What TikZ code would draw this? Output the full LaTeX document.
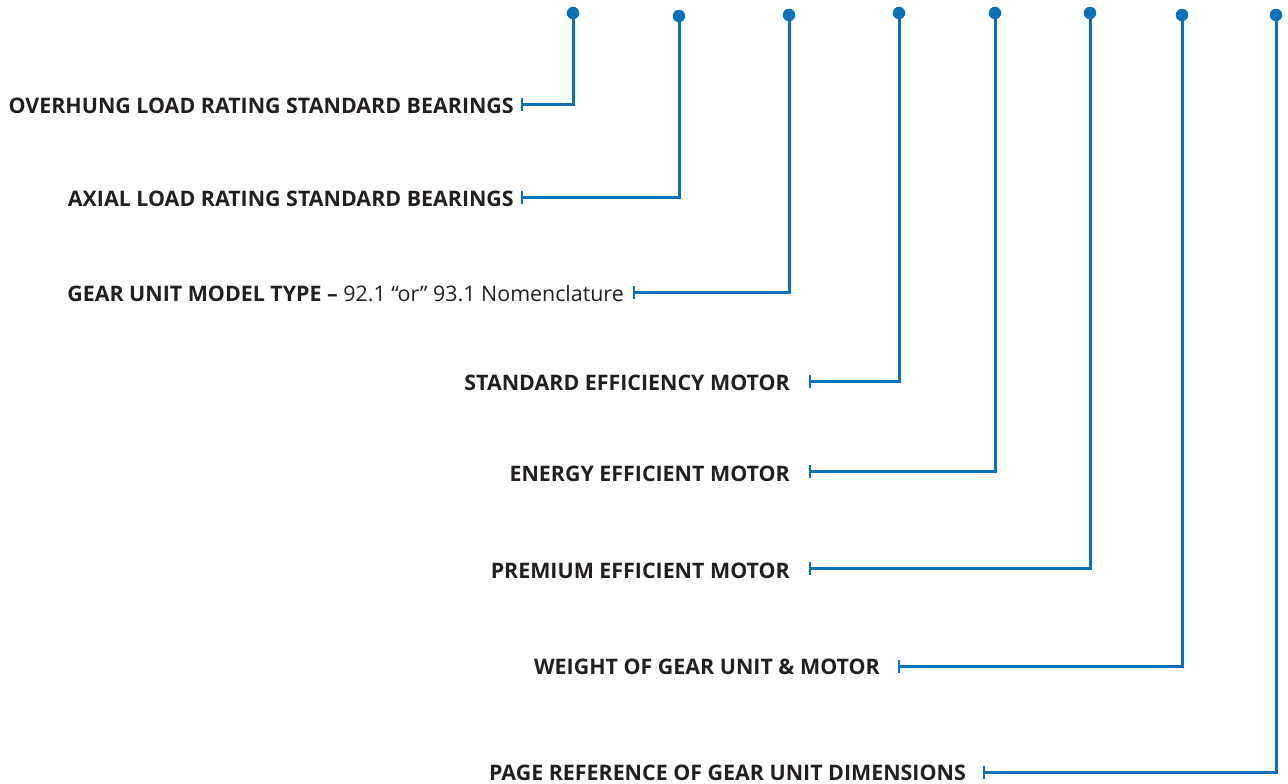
\documentclass[tikz,border=0pt]{standalone}
\usepackage{fontspec}
\setmainfont{Open Sans}
\usetikzlibrary{arrows.meta}
\definecolor{lineblue}{HTML}{0A72BC}
\definecolor{txt}{HTML}{231F20}
\begin{document}
\begin{tikzpicture}[x=1pt,y=-1pt,
  dot/.style={circle,fill=lineblue,inner sep=0pt,minimum size=12.5pt},
  lbl/.style={anchor=east,inner sep=0pt,text=txt,font=\fontsize{21.4}{24}\selectfont\bfseries},
  conn/.style={draw=lineblue,line width=3pt,-{Bar[width=13pt,line width=2pt]}}]
\useasboundingbox (0,0) rectangle (1288,784);
\node[dot] (d1) at (573,13) {};
\node[dot] (d2) at (679,16) {};
\node[dot] (d3) at (789,15) {};
\node[dot] (d4) at (899,13) {};
\node[dot] (d5) at (995,13) {};
\node[dot] (d6) at (1090,13) {};
\node[dot] (d7) at (1182,15) {};
\node[dot] (d8) at (1276,15) {};
\node[lbl] (t1) at (514,106) {OVERHUNG LOAD RATING STANDARD BEARINGS};
\node[lbl] (t2) at (514,199) {AXIAL LOAD RATING STANDARD BEARINGS};
\node[lbl] (t3) at (624,294) {GEAR UNIT MODEL TYPE \textendash{} \mdseries 92.1 \textquotedblleft or\textquotedblright{} 93.1 Nomenclature};
\node[lbl] (t4) at (790,383) {STANDARD EFFICIENCY MOTOR};
\node[lbl] (t5) at (790,474) {ENERGY EFFICIENT MOTOR};
\node[lbl] (t6) at (790,571) {PREMIUM EFFICIENT MOTOR};
\node[lbl] (t7) at (880,667) {WEIGHT OF GEAR UNIT \& MOTOR};
\node[lbl] (t8) at (966,772.5) {PAGE REFERENCE OF GEAR UNIT DIMENSIONS};
\coordinate (e1) at (521,104);
\coordinate (e2) at (521,197);
\coordinate (e3) at (633,292);
\coordinate (e4) at (809,381);
\coordinate (e5) at (809,471);
\coordinate (e6) at (809,568);
\coordinate (e7) at (898,666);
\coordinate (e8) at (983,772);
\foreach \i in {1,...,8} \draw[conn] (d\i.center) |- (e\i);
\end{tikzpicture}
\end{document}
